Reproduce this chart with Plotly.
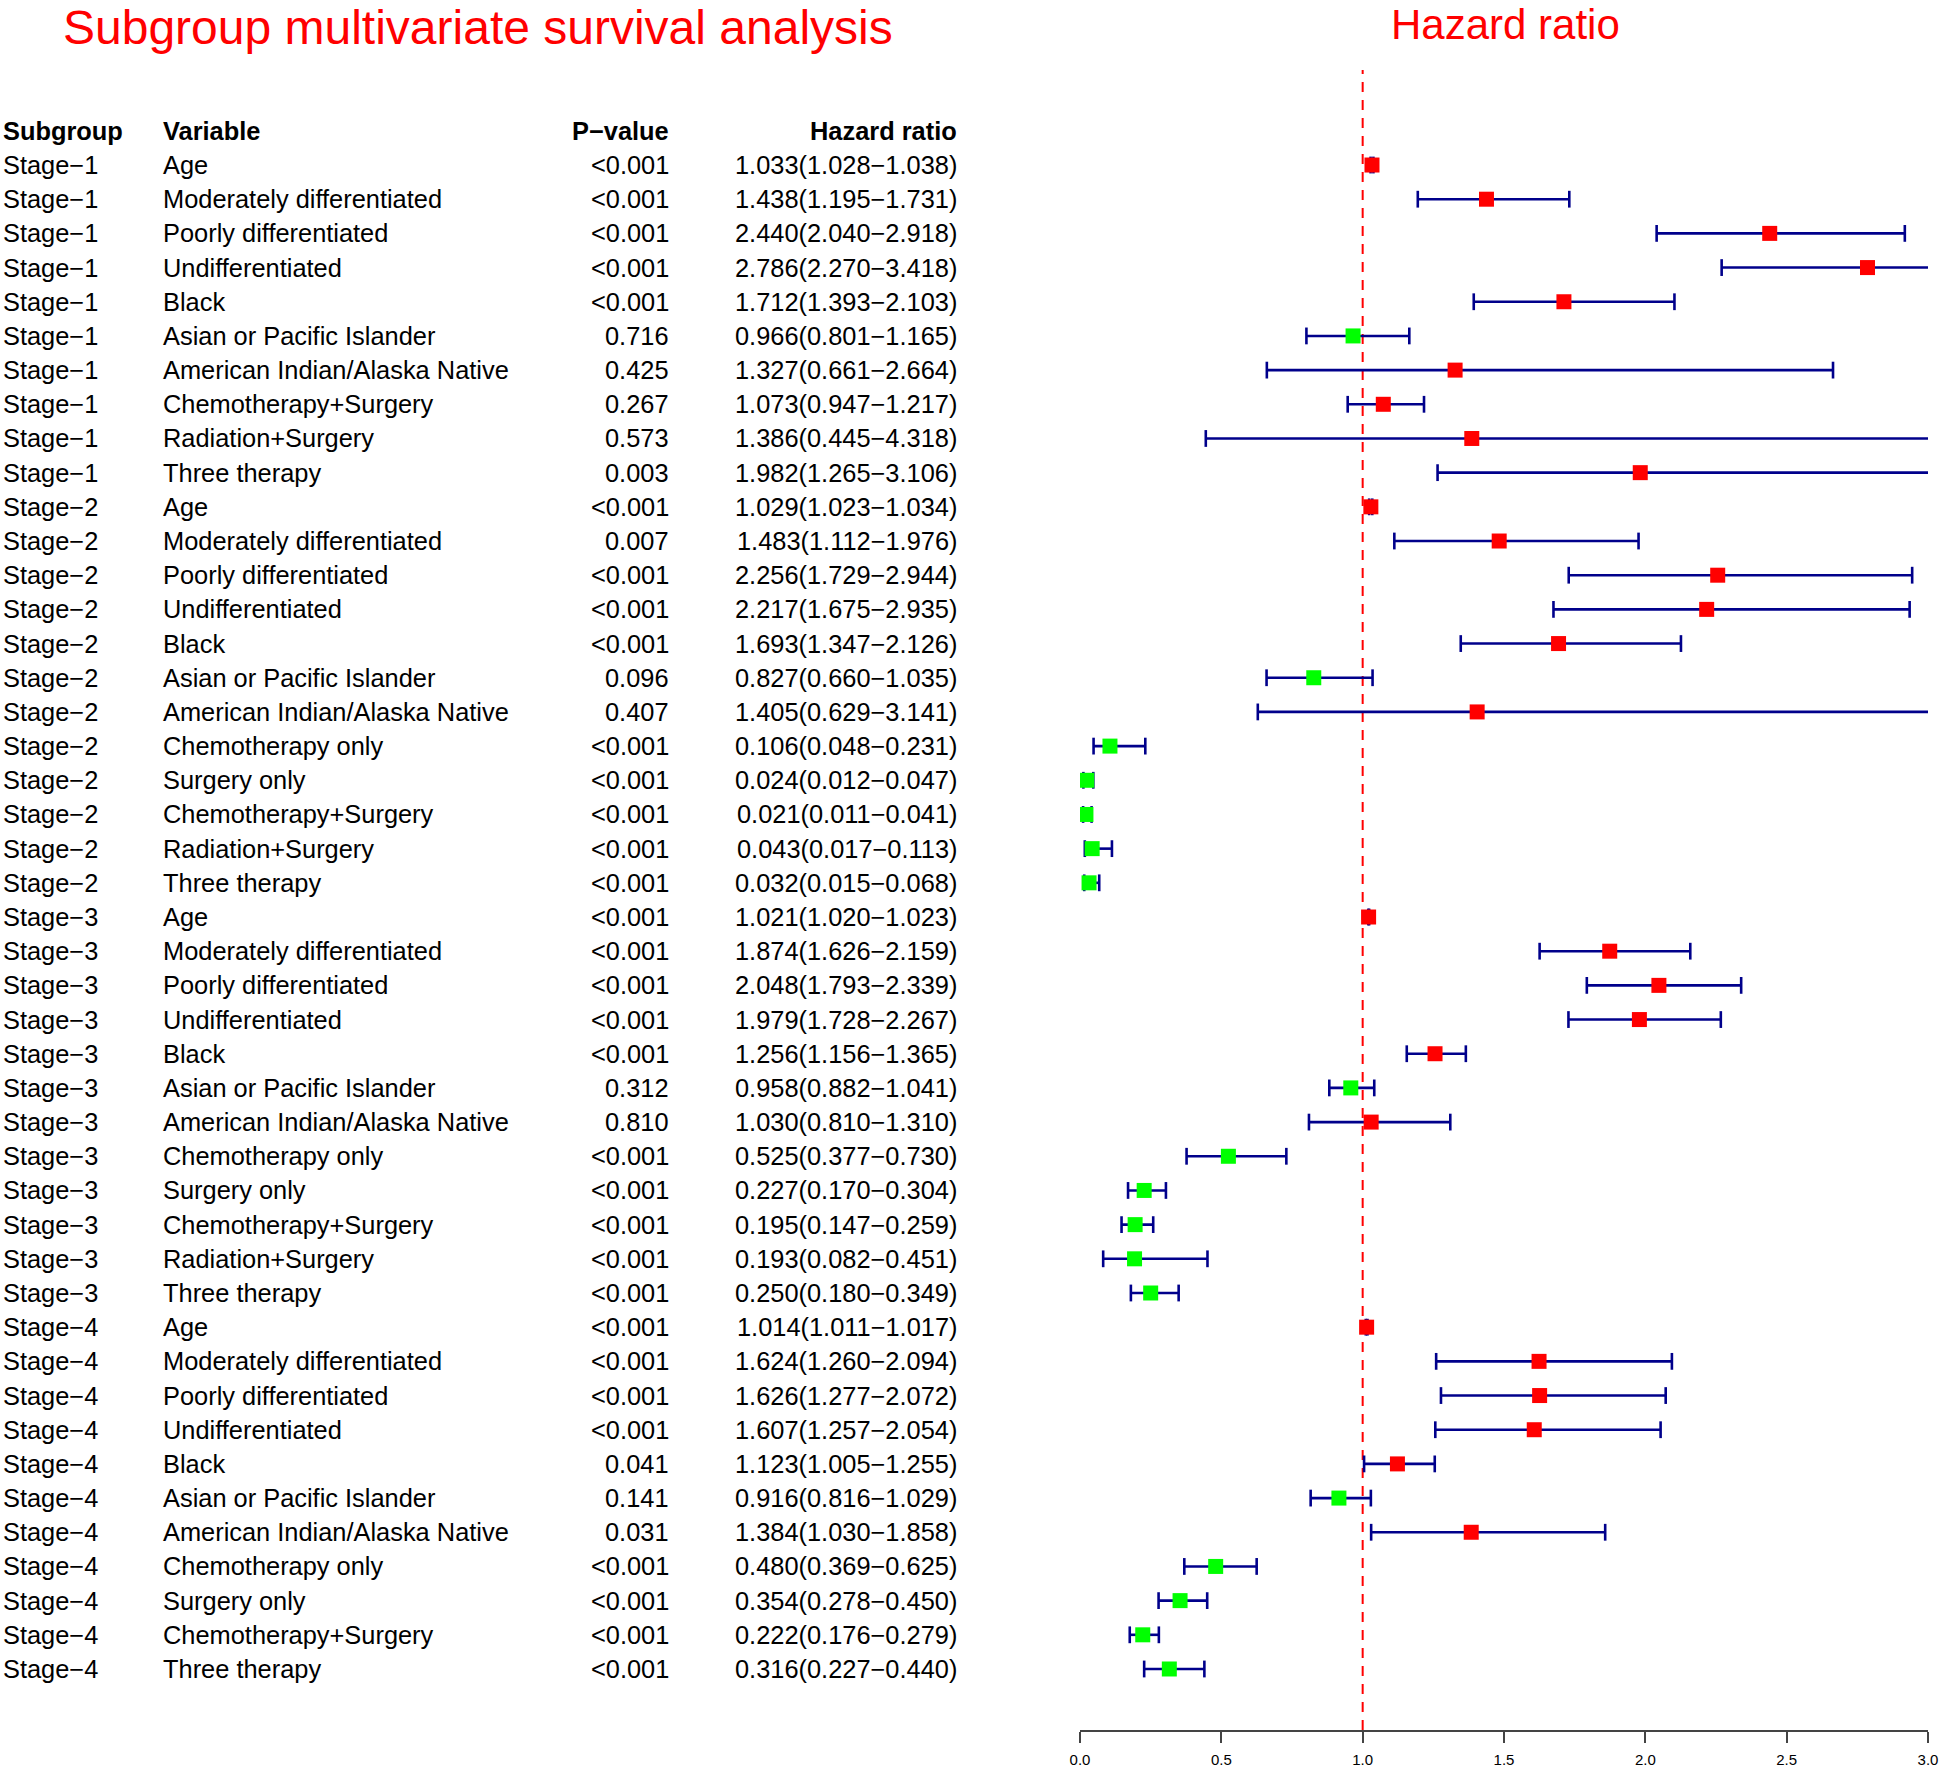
import plotly.graph_objects as go

# Таблица подгрупп (сверху вниз)
subgroups = (["Stage−1"] * 10 + ["Stage−2"] * 12 + ["Stage−3"] * 12 + ["Stage−4"] * 11)

variables = [
    # Stage-1
    "Age", "Moderately differentiated", "Poorly differentiated", "Undifferentiated",
    "Black", "Asian or Pacific Islander", "American Indian/Alaska Native",
    "Chemotherapy+Surgery", "Radiation+Surgery", "Three therapy",
    # Stage-2
    "Age", "Moderately differentiated", "Poorly differentiated", "Undifferentiated",
    "Black", "Asian or Pacific Islander", "American Indian/Alaska Native",
    "Chemotherapy only", "Surgery only", "Chemotherapy+Surgery", "Radiation+Surgery",
    "Three therapy",
    # Stage-3
    "Age", "Moderately differentiated", "Poorly differentiated", "Undifferentiated",
    "Black", "Asian or Pacific Islander", "American Indian/Alaska Native",
    "Chemotherapy only", "Surgery only", "Chemotherapy+Surgery", "Radiation+Surgery",
    "Three therapy",
    # Stage-4
    "Age", "Moderately differentiated", "Poorly differentiated", "Undifferentiated",
    "Black", "Asian or Pacific Islander", "American Indian/Alaska Native",
    "Chemotherapy only", "Surgery only", "Chemotherapy+Surgery", "Three therapy",
]

p_values = [
    "<0.001", "<0.001", "<0.001", "<0.001", "<0.001", "0.716", "0.425", "0.267", "0.573", "0.003",
    "<0.001", "0.007", "<0.001", "<0.001", "<0.001", "0.096", "0.407", "<0.001", "<0.001",
    "<0.001", "<0.001", "<0.001",
    "<0.001", "<0.001", "<0.001", "<0.001", "<0.001", "0.312", "0.810", "<0.001", "<0.001",
    "<0.001", "<0.001", "<0.001",
    "<0.001", "<0.001", "<0.001", "<0.001", "0.041", "0.141", "0.031", "<0.001", "<0.001",
    "<0.001", "<0.001",
]

hr = [
    1.033, 1.438, 2.440, 2.786, 1.712, 0.966, 1.327, 1.073, 1.386, 1.982,
    1.029, 1.483, 2.256, 2.217, 1.693, 0.827, 1.405, 0.106, 0.024, 0.021, 0.043, 0.032,
    1.021, 1.874, 2.048, 1.979, 1.256, 0.958, 1.030, 0.525, 0.227, 0.195, 0.193, 0.250,
    1.014, 1.624, 1.626, 1.607, 1.123, 0.916, 1.384, 0.480, 0.354, 0.222, 0.316,
]

hr_low = [
    1.028, 1.195, 2.040, 2.270, 1.393, 0.801, 0.661, 0.947, 0.445, 1.265,
    1.023, 1.112, 1.729, 1.675, 1.347, 0.660, 0.629, 0.048, 0.012, 0.011, 0.017, 0.015,
    1.020, 1.626, 1.793, 1.728, 1.156, 0.882, 0.810, 0.377, 0.170, 0.147, 0.082, 0.180,
    1.011, 1.260, 1.277, 1.257, 1.005, 0.816, 1.030, 0.369, 0.278, 0.176, 0.227,
]

hr_high = [
    1.038, 1.731, 2.918, 3.418, 2.103, 1.165, 2.664, 1.217, 4.318, 3.106,
    1.034, 1.976, 2.944, 2.935, 2.126, 1.035, 3.141, 0.231, 0.047, 0.041, 0.113, 0.068,
    1.023, 2.159, 2.339, 2.267, 1.365, 1.041, 1.310, 0.730, 0.304, 0.259, 0.451, 0.349,
    1.017, 2.094, 2.072, 2.054, 1.255, 1.029, 1.858, 0.625, 0.450, 0.279, 0.440,
]

x_ticks = [0.0, 0.5, 1.0, 1.5, 2.0, 2.5, 3.0]

X_MAX = 3.0
FONT = "Liberation Sans, Arial, sans-serif"
TEXT_SIZE = 25.4
NAVY = "#00008B"
W, H = 1944, 1770

n = len(hr)
# Ряд 1 сверху -> значение n, последний ряд -> 1
rows = [n - i for i in range(n)]
header_y = n + 1

fig = go.Figure()

# Доверительные интервалы (обрезаются на правой границе оси, без "усика" за границей)
line_x, line_y = [], []
cap_x, cap_y = [], []
for lo, hi, y in zip(hr_low, hr_high, rows):
    line_x += [lo, min(hi, X_MAX), None]
    line_y += [y, y, None]
    cap_x.append(lo)
    cap_y.append(y)
    if hi <= X_MAX:
        cap_x.append(hi)
        cap_y.append(y)

fig.add_trace(go.Scatter(
    x=line_x, y=line_y, mode="lines",
    line=dict(color=NAVY, width=2.6),
    hoverinfo="skip", showlegend=False
))

fig.add_trace(go.Scatter(
    x=cap_x, y=cap_y, mode="markers",
    marker=dict(symbol="line-ns", size=12, line=dict(color=NAVY, width=2.6)),
    hoverinfo="skip", showlegend=False
))

# Точки HR: красные если > 1, зелёные если < 1
box_colors = ["#FF0000" if v > 1 else "#00FF00" for v in hr]
fig.add_trace(go.Scatter(
    x=hr, y=rows, mode="markers",
    marker=dict(symbol="square", size=15, color=box_colors, line=dict(width=0)),
    customdata=list(zip(subgroups, variables)),
    hovertemplate="%{customdata[0]} %{customdata[1]}<br>HR: %{x:.3f}<extra></extra>",
    showlegend=False
))

# Вертикальная линия HR = 1
fig.add_shape(
    type="line", xref="x", yref="y domain",
    x0=1, x1=1, y0=0, y1=1,
    line=dict(color="#FF0000", width=2, dash="10px,8px"),
    layer="below"
)

# Таблица слева
annotations = []


def add_text(text, x, y, anchor, bold=False):
    annotations.append(dict(
        text=f"<b>{text}</b>" if bold else text,
        xref="paper", yref="y", x=x, y=y,
        xanchor=anchor, yanchor="middle", showarrow=False,
        font=dict(family=FONT, size=TEXT_SIZE, color="black")
    ))


COL_SUB = 1 / W
COL_VAR = 161 / W
COL_P = 671 / W
COL_HR = 959 / W

add_text("Subgroup", COL_SUB, header_y, "left", bold=True)
add_text("Variable", COL_VAR, header_y, "left", bold=True)
add_text("P−value", COL_P, header_y, "right", bold=True)
add_text("Hazard ratio", COL_HR, header_y, "right", bold=True)

for sg, var, p, h, lo, hi, y in zip(subgroups, variables, p_values, hr, hr_low, hr_high, rows):
    add_text(sg, COL_SUB, y, "left")
    add_text(var, COL_VAR, y, "left")
    add_text(p, COL_P, y, "right")
    add_text(f"{h:.3f}({lo:.3f}−{hi:.3f})", COL_HR, y, "right")

# Заголовки
annotations.append(dict(
    text="Subgroup multivariate survival analysis",
    xref="paper", yref="paper", x=478 / W, y=1,
    xanchor="center", yanchor="top", showarrow=False, borderpad=0,
    font=dict(family=FONT, size=48, color="#FF0000")
))
annotations.append(dict(
    text="Hazard ratio",
    xref="paper", yref="paper", x=1505 / W, y=1,
    xanchor="center", yanchor="top", showarrow=False, borderpad=0,
    font=dict(family=FONT, size=42, color="#FF0000")
))

fig.update_layout(
    width=W, height=H,
    margin=dict(l=0, r=0, t=0, b=0),
    plot_bgcolor="white", paper_bgcolor="white",
    showlegend=False,
    annotations=annotations,
    xaxis=dict(
        domain=[1080 / W, 1928 / W],
        range=[0, X_MAX],
        tickvals=x_ticks,
        ticktext=[f"{t:.1f}" for t in x_ticks],
        showgrid=False, zeroline=False,
        showline=True, linecolor="#444444", linewidth=1.6,
        ticks="outside", ticklen=11, tickwidth=1.6, tickcolor="#444444",
        tickfont=dict(family=FONT, size=15, color="black"),
        ticklabelstandoff=4,
        automargin=False, fixedrange=True
    ),
    yaxis=dict(
        domain=[40 / H, 1 - 70 / H],
        range=[-0.785, n + 2.78],
        visible=False, automargin=False, fixedrange=True
    )
)

# убираем стандартный отступ body, чтобы рисунок занимал окно целиком
fig.write_html(
    "out.html",
    config={"displayModeBar": False},
    post_script="document.body.style.margin='0';"
)
